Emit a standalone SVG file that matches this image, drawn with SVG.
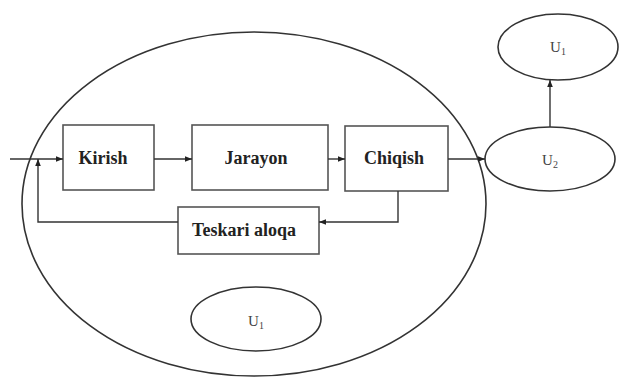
<svg xmlns="http://www.w3.org/2000/svg" width="619" height="380" viewBox="0 0 619 380">
<defs>
<marker id="ah" viewBox="0 0 10 10" refX="10" refY="5" markerWidth="7" markerHeight="7" orient="auto" markerUnits="userSpaceOnUse">
<path d="M0,1 L10,5 L0,9 z" fill="#222"/>
</marker>
<style>
.box{fill:#fff;stroke:#555;stroke-width:1.6}
.ell{fill:none;stroke:#333;stroke-width:1.6}
.lbl{font-family:"Liberation Serif","Times New Roman",serif;font-weight:bold;font-size:18px;fill:#222;text-anchor:middle}
.u{font-family:"Liberation Serif","Times New Roman",serif;font-size:15px;fill:#444;text-anchor:middle}
.sub{font-size:10px}
.con{fill:none;stroke:#333;stroke-width:1.4}
</style>
</defs>
<rect width="619" height="380" fill="#fff"/>
<g id="system">
<ellipse class="ell" cx="254" cy="204" rx="232" ry="172"/>
</g>
<g id="kirish">
<rect class="box" x="63" y="125" width="91" height="65"/>
<text class="lbl" x="103" y="164">Kirish</text>
</g>
<g id="jarayon">
<rect class="box" x="192" y="125" width="136" height="65"/>
<text class="lbl" x="256" y="164">Jarayon</text>
</g>
<g id="chiqish">
<rect class="box" x="345" y="126" width="103" height="65"/>
<text class="lbl" x="394" y="164">Chiqish</text>
</g>
<g id="teskari">
<rect class="box" x="178" y="207" width="141" height="47"/>
<text class="lbl" x="244" y="236">Teskari aloqa</text>
</g>
<g id="u1">
<ellipse class="ell" cx="256" cy="319" rx="65" ry="32"/>
<text class="u" x="256" y="326">U<tspan class="sub" dy="3">1</tspan></text>
</g>
<g id="u2">
<ellipse class="ell" cx="550" cy="159" rx="65" ry="32"/>
<text class="u" x="550" y="165">U<tspan class="sub" dy="3">2</tspan></text>
</g>
<g id="u3">
<ellipse class="ell" cx="558" cy="47" rx="60" ry="33"/>
<text class="u" x="558" y="52">U<tspan class="sub" dy="3">1</tspan></text>
</g>
<g id="connectors">
<path class="con" d="M10,159 L63,159" marker-end="url(#ah)"/>
<path class="con" d="M154,159 L192,159" marker-end="url(#ah)"/>
<path class="con" d="M328,159 L345,159" marker-end="url(#ah)"/>
<path class="con" d="M448,159 L485,159" marker-end="url(#ah)"/>
<path class="con" d="M398,191 L398,222 L319,222" marker-end="url(#ah)"/>
<path class="con" d="M178,222 L38,222 L38,159" marker-end="url(#ah)"/>
<path class="con" d="M550,127 L550,80" marker-end="url(#ah)"/>
</g>
</svg>
